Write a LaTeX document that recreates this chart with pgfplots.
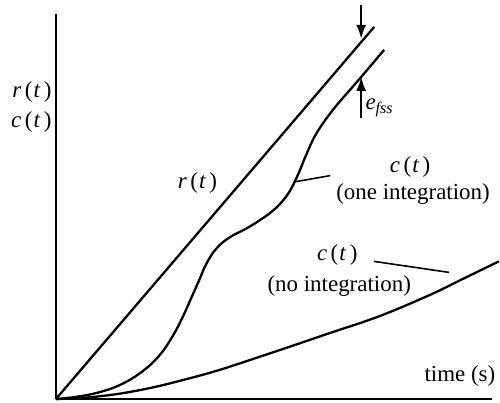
\documentclass[border=0pt]{standalone}
\usepackage{pgfplots}
\pgfplotsset{compat=1.18}
\usepackage{fontspec}
\setmainfont{Liberation Serif}
\usetikzlibrary{arrows.meta}

\newcommand{\vr}{\textit{r}\kern0.15em(\kern0.05em\textit{t}\kern0.15em)}
\newcommand{\vc}{\textit{c}\kern0.15em(\kern0.05em\textit{t}\kern0.15em)}

\begin{document}
\begin{tikzpicture}
\begin{axis}[
    scale only axis,
    x=0.5pt, y=0.5pt,
    xmin=0, xmax=437,
    ymin=0, ymax=386,
    axis x line=bottom,
    axis y line=left,
    axis line style={-, line width=1.3pt},
    xtick=\empty, ytick=\empty,
    clip=false,
    every axis plot/.append style={line width=1.15pt, black, no markers},
    nodes={font=\fontsize{11.5}{13}\selectfont, inner sep=0pt},
]
% page extent (500 x 403 px at 0.5pt each)
\path (axis cs:-56,-3) rectangle (axis cs:444,400);

% r(t): ramp input
\addplot[black, no markers] coordinates {(0,0) (319,373)};

% c(t), one integration
\addplot[black, no markers, smooth, tension=0.7] coordinates {
(0,0) (22,2.5) (44,7) (66,15) (87,28) (104,44) (117,63) (127,82)
(136,102) (144,120) (151,136) (161,151) (174,162) (191,171)
(207,181) (220,191) (230,202) (237,213) (244,228) (251,245)
(261,266) (277,289) (294,309) (307,324) (329,350)};

% c(t), no integration
\addplot[black, no markers, smooth, tension=0.6] coordinates {
(0,0) (30,1.5) (61,5) (94,11) (127,19) (160,28) (194,39) (230,51)
(274,66) (324,83) (374,104) (407,120) (444,138)};

% steady-state error arrows
\draw[line width=1.1pt, -{Latex[length=7pt,width=5pt]}] (axis cs:306,395) -- (axis cs:306,361);
\draw[line width=1.1pt, -{Latex[length=7pt,width=5pt]}] (axis cs:306,282) -- (axis cs:306,323);
\node[anchor=base west] at (axis cs:310,290) {\textit{e}\textsubscript{\textit{fss}}};

% leader lines
\draw[line width=0.8pt] (axis cs:241,218) -- (axis cs:275,224);
\draw[line width=0.8pt] (axis cs:319,138) -- (axis cs:394,127);

% labels
\node[anchor=east] at (axis cs:-4,308) {\vr};
\node[anchor=east] at (axis cs:-4,278) {\vc};
\node at (axis cs:142,217) {\vr};
\node at (axis cs:355,233) {\vc};
\node at (axis cs:358,206) {(one integration)};
\node at (axis cs:282,144) {\vc};
\node at (axis cs:284,113) {(no integration)};
\node at (axis cs:405,23) {time (s)};
\end{axis}
\end{tikzpicture}
\end{document}
